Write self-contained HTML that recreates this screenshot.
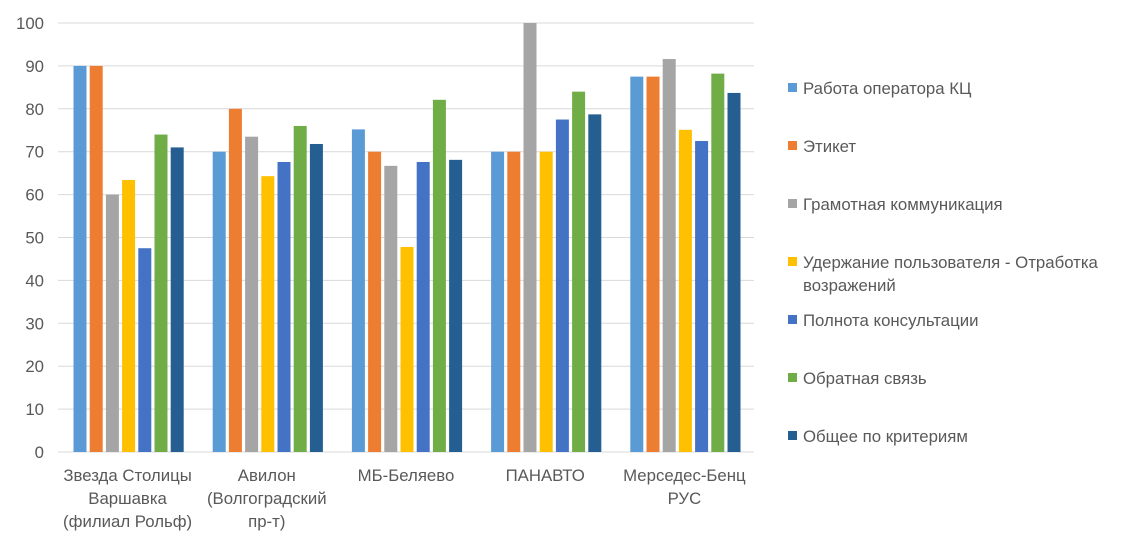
<!DOCTYPE html>
<html><head><meta charset="utf-8"><style>
body{margin:0;background:#fff;font-family:"Liberation Sans",sans-serif}
svg text{font-family:"Liberation Sans",sans-serif;fill:#595959;font-size:16.8px}
</style></head><body>
<svg id="c" width="1124" height="546"></svg>
<script>
const categories=[["Звезда Столицы","Варшавка","(филиал Рольф)"],["Авилон","(Волгоградский","пр-т)"],["МБ-Беляево"],["ПАНАВТО"],["Мерседес-Бенц","РУС"]];
const seriesNames=["Работа оператора КЦ","Этикет","Грамотная коммуникация","Удержание пользователя - Отработка возражений","Полнота консультации","Обратная связь","Общее по критериям"];
const s1=[90,70,75.2,70,87.5];
const s2=[90,80,70,70,87.5];
const s3=[60,73.5,66.7,100,91.6];
const s4=[63.4,64.3,47.8,70,75.1];
const s5=[47.5,67.6,67.6,77.5,72.5];
const s6=[74,76,82.1,84,88.2];
const s7=[71,71.8,68.1,78.7,83.7];
const yTicks=[0,10,20,30,40,50,60,70,80,90,100];
const series=[s1,s2,s3,s4,s5,s6,s7];
const colors=["#5b9bd5","#ed7d31","#a5a5a5","#ffc000","#4472c4","#70ad47","#255e91"];
const NS="http://www.w3.org/2000/svg",svg=document.getElementById('c');
const x0=58,x1=754,y0=452,y1=23;
const Y=v=>y0-(v/100)*(y0-y1);
const cw=(x1-x0)/categories.length;
function mk(t,a){const e=document.createElementNS(NS,t);for(const k in a)e.setAttribute(k,a[k]);svg.appendChild(e);return e;}
yTicks.forEach(v=>{
 const l=mk('line',{x1:x0,x2:x1,y1:Y(v),y2:Y(v),stroke:'#d9d9d9','stroke-width':1});
 
 
 const t=mk('text',{x:44,y:Y(v)+6,'text-anchor':'end'});t.textContent=v;
 
 
});
series.forEach((s,si)=>{s.forEach((v,ci)=>{
 const r=mk('rect',{x:x0+ci*cw+15.5+si*16.2,y:Y(v),width:13,height:y0-Y(v),fill:colors[si]});
 
 
});});
categories.forEach((c,ci)=>{c.forEach((ln,li)=>{
 const t=mk('text',{x:x0+ci*cw+cw/2,y:481+li*23,'text-anchor':'middle'});t.textContent=ln;
 
 
});});
const ly=[88,146,204,262,320,378,436];
seriesNames.forEach((n,i)=>{
 const r=mk('rect',{x:788,y:ly[i]-5,width:9,height:9,fill:colors[i]});
 
 
 const t=mk('text',{x:803,y:ly[i]+6});
 
 
 if(i===3){t.textContent="Удержание пользователя - Отработка";const t2=mk('text',{x:803,y:ly[i]+29});t2.textContent="возражений";
 
 }
 else t.textContent=n;
});
</script>
</body></html>
